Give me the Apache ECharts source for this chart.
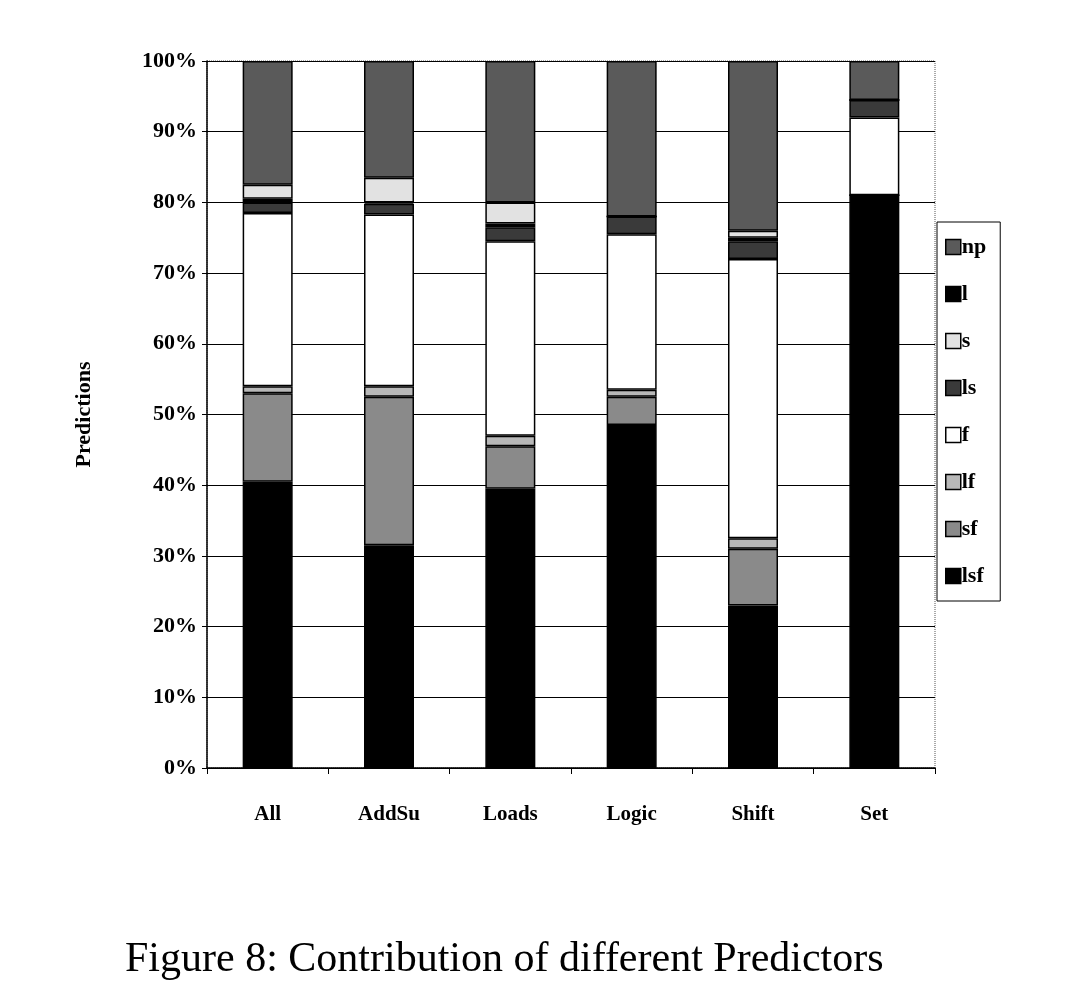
<!DOCTYPE html>
<html><head><meta charset="utf-8">
<script src="https://cdn.jsdelivr.net/npm/echarts@6/dist/echarts.min.js"></script>
<style>body{margin:0;background:#fff}#c{width:1066px;height:1002px}</style>
</head><body><div id="c"></div>
<script>
var categories = ['All', 'AddSu', 'Loads', 'Logic', 'Shift', 'Set'];
var lsf = [40.5, 31.5, 39.5, 48.5, 23, 81];
var sf = [12.5, 21, 6, 4, 8, 0];
var lf = [1, 1.5, 1.5, 1, 1.5, 0];
var f = [24.5, 24.3, 27.5, 22, 39.5, 11];
var ls = [1.5, 1.5, 2, 2.5, 2.5, 2.5];
var l = [0.5, 0.2, 0.5, 0, 0.5, 0];
var s = [2, 3.5, 3, 0, 1, 0];
var np = [17.5, 16.5, 20, 22, 24, 5.5];
var yTicks = [0, 10, 20, 30, 40, 50, 60, 70, 80, 90, 100];

var serif = 'Liberation Serif';
var defs = [
    ['lsf', lsf, '#000000'],
    ['sf', sf, '#8a8a8a'],
    ['lf', lf, '#b8b8b8'],
    ['f', f, '#ffffff'],
    ['ls', ls, '#3a3a3a'],
    ['l', l, '#000000'],
    ['s', s, '#e2e2e2'],
    ['np', np, '#5a5a5a']
];
var series = defs.map(function (d) {
    return {
        name: d[0],
        type: 'bar',
        stack: 'all',
        barWidth: 50,
        data: d[1],
        itemStyle: { color: d[2], borderColor: '#000', borderWidth: 1.5 }
    };
});

var chart = echarts.init(document.getElementById('c'));
chart.setOption({
    animation: false,
    grid: { left: 207, right: 131, top: 61, bottom: 234, show: true, borderColor: '#555', borderType: 'dotted', borderWidth: 1 },
    title: {
        text: 'Figure 8: Contribution of different Predictors',
        left: 120, top: 934,
        textStyle: { fontFamily: serif, fontWeight: 'normal', fontSize: 42, color: '#000' }
    },
    legend: {
        orient: 'vertical',
        left: 937, top: 222,
        data: ['np', 'l', 's', 'ls', 'f', 'lf', 'sf', 'lsf'],
        itemWidth: 15, itemHeight: 15, itemGap: 25,
        padding: [14, 14, 14, 8],
        borderColor: '#000', borderWidth: 1,
        icon: 'rect',
        textStyle: { fontFamily: serif, fontWeight: 'bold', fontSize: 22, color: '#000', padding: [0, 0, 0, -4] },
        itemStyle: { borderColor: '#000', borderWidth: 1.5 }
    },
    xAxis: {
        type: 'category',
        data: categories,
        axisLine: { lineStyle: { color: '#000', width: 1.5 } },
        axisTick: { show: true, length: 6, lineStyle: { color: '#000' } },
        axisLabel: { margin: 36, fontFamily: serif, fontWeight: 'bold', fontSize: 21, color: '#000' }
    },
    yAxis: {
        type: 'value',
        min: 0, max: 100, interval: 10,
        name: 'Predictions',
        nameLocation: 'middle',
        nameGap: 112,
        nameTextStyle: { fontFamily: serif, fontWeight: 'bold', fontSize: 22, color: '#000' },
        axisLine: { show: true, lineStyle: { color: '#000', width: 1.5 } },
        axisTick: { show: true, length: 5, lineStyle: { color: '#000' } },
        splitLine: { lineStyle: { color: '#000', width: 1 } },
        axisLabel: {
            fontFamily: serif, fontWeight: 'bold', fontSize: 22, color: '#000', margin: 10,
            formatter: function (v) { return yTicks.indexOf(v) >= 0 ? v + '%' : ''; }
        }
    },
    series: series
});
</script>
</body></html>
